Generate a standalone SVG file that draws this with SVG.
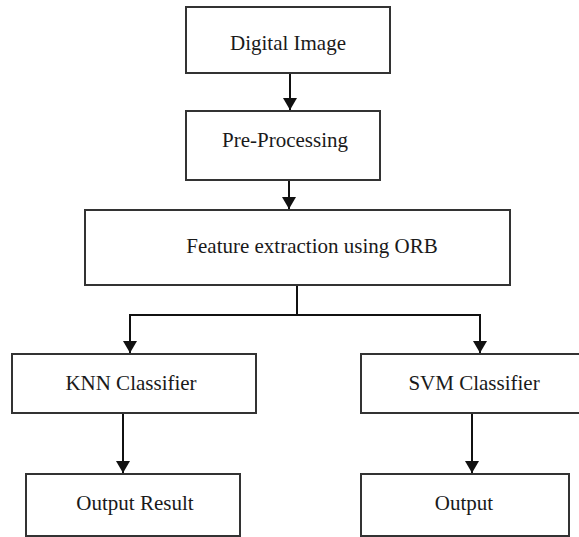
<svg xmlns="http://www.w3.org/2000/svg" width="579" height="537" viewBox="0 0 579 537">
  <style>
    .box { fill: #ffffff; stroke: #333333; stroke-width: 2; }
    .lbl { font-family: "Liberation Serif", "Times New Roman", serif; font-size: 21px; fill: #1a1a1a; text-anchor: middle; }
    .edge { fill: none; stroke: #111111; stroke-width: 2; }
  </style>
  <defs>
    <marker id="arrow" viewBox="0 0 12 14" refX="12" refY="7" markerWidth="12" markerHeight="14" markerUnits="userSpaceOnUse" orient="auto">
      <path d="M0,0 L12,7 L0,14 z" fill="#111111"/>
    </marker>
  </defs>
  <rect width="579" height="537" fill="#ffffff"/>

  <g id="connectors">
    <line class="edge" x1="290" y1="73" x2="290" y2="110" marker-end="url(#arrow)"/>
    <line class="edge" x1="289" y1="180" x2="289" y2="209" marker-end="url(#arrow)"/>
    <polyline class="edge" points="297,285 297,315 130,315 130,353" marker-end="url(#arrow)"/>
    <polyline class="edge" points="297,315 480,315 480,353" marker-end="url(#arrow)"/>
    <line class="edge" x1="123" y1="413" x2="123" y2="473" marker-end="url(#arrow)"/>
    <line class="edge" x1="472" y1="413" x2="472" y2="473" marker-end="url(#arrow)"/>
  </g>

  <g id="digital-image">
    <rect class="box" x="186" y="7" width="204" height="66"/>
    <text class="lbl" x="288" y="50">Digital Image</text>
  </g>
  <g id="pre-processing">
    <rect class="box" x="186" y="111" width="194" height="69"/>
    <text class="lbl" x="285" y="147">Pre-Processing</text>
  </g>
  <g id="feature-extraction">
    <rect class="box" x="85" y="210" width="425" height="75"/>
    <text class="lbl" x="312" y="253">Feature extraction using ORB</text>
  </g>
  <g id="knn-classifier">
    <rect class="box" x="12" y="354" width="244" height="59"/>
    <text class="lbl" x="131" y="390">KNN Classifier</text>
  </g>
  <g id="svm-classifier">
    <rect class="box" x="361" y="354" width="230" height="59"/>
    <text class="lbl" x="474" y="390">SVM Classifier</text>
  </g>
  <g id="output-result">
    <rect class="box" x="26" y="474" width="214" height="62"/>
    <text class="lbl" x="135" y="510">Output Result</text>
  </g>
  <g id="output">
    <rect class="box" x="361" y="474" width="208" height="62"/>
    <text class="lbl" x="464" y="510">Output</text>
  </g>
</svg>
